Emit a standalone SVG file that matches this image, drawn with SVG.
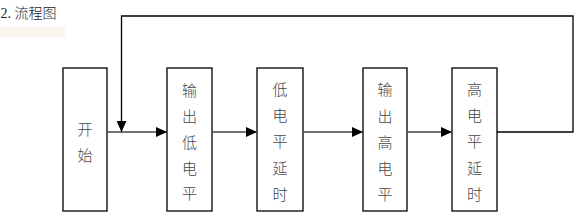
<svg xmlns="http://www.w3.org/2000/svg" width="578" height="217" viewBox="0 0 578 217">
<style>
.box{fill:#fff;stroke:#000;stroke-width:1.3}
.t{font-family:"Noto Sans CJK SC","Noto Sans",sans-serif;font-size:15px;fill:#444;text-anchor:middle;dominant-baseline:central;font-weight:300}
.title{font-family:"Liberation Serif","Noto Sans CJK SC",serif;font-size:14px;fill:#222}
.ln{fill:none;stroke:#444;stroke-width:1.5}
.fb{fill:none;stroke:#000;stroke-width:1.3}
</style>
<defs>
<marker id="ah" markerWidth="11" markerHeight="10" refX="11" refY="5" orient="auto" markerUnits="userSpaceOnUse">
<path d="M0,0 L11,5 L0,10 Z" fill="#000"/>
</marker>
</defs>
<rect width="578" height="217" fill="#fff"/>
<rect x="0" y="27" width="65" height="10" fill="#fcf6f1"/>
<text class="title" x="0.5" y="18">2. <tspan font-family="Noto Sans CJK SC, sans-serif" font-weight="300">流程图</tspan></text>
<g id="n1"><rect class="box" x="63" y="68" width="44" height="143"/><text class="t" x="85" y="128">开</text><text class="t" x="85" y="154">始</text></g>
<g id="n2"><rect class="box" x="167" y="68" width="45" height="143"/><text class="t" x="189.5" y="89">输</text><text class="t" x="189.5" y="115">出</text><text class="t" x="189.5" y="141">低</text><text class="t" x="189.5" y="167">电</text><text class="t" x="189.5" y="192">平</text></g>
<g id="n3"><rect class="box" x="257" y="68" width="46" height="143"/><text class="t" x="280" y="88">低</text><text class="t" x="280" y="114">电</text><text class="t" x="280" y="140">平</text><text class="t" x="280" y="167">延</text><text class="t" x="280" y="193">时</text></g>
<g id="n4"><rect class="box" x="363" y="68" width="44" height="143"/><text class="t" x="385" y="88">输</text><text class="t" x="385" y="115">出</text><text class="t" x="385" y="141">高</text><text class="t" x="385" y="167">电</text><text class="t" x="385" y="193">平</text></g>
<g id="n5"><rect class="box" x="452" y="68" width="45" height="143"/><text class="t" x="474.5" y="88">高</text><text class="t" x="474.5" y="114">电</text><text class="t" x="474.5" y="140">平</text><text class="t" x="474.5" y="167">延</text><text class="t" x="474.5" y="193">时</text></g>
<g id="connectors">
<path class="ln" d="M107,132 H167" marker-end="url(#ah)"/>
<path class="ln" d="M212,132 H257" marker-end="url(#ah)"/>
<path class="ln" d="M303,132 H363" marker-end="url(#ah)"/>
<path class="ln" d="M407,132 H452" marker-end="url(#ah)"/>
<path class="fb" d="M497,132 H573 V16 H121.5 V132" marker-end="url(#ah)"/>
</g>
</svg>
